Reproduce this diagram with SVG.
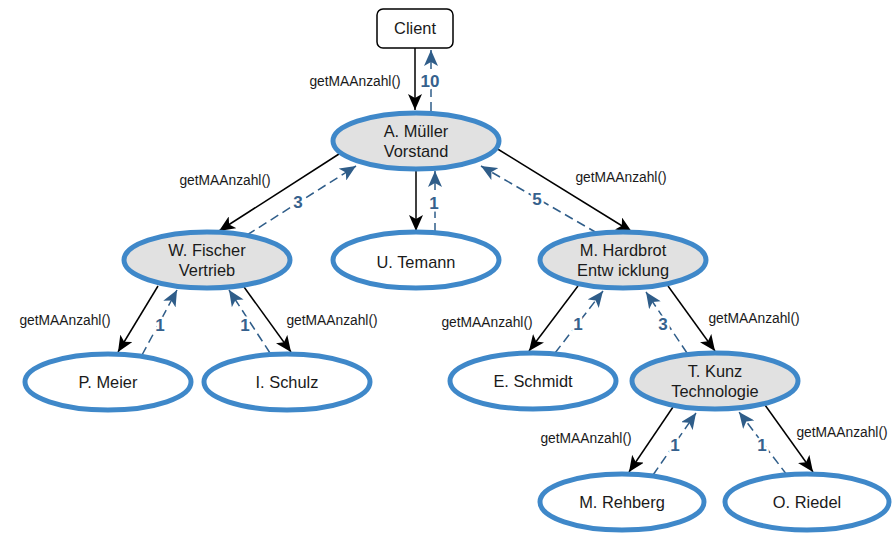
<svg xmlns="http://www.w3.org/2000/svg" width="893" height="534" viewBox="0 0 893 534">
<style>
.node{stroke:#3f88c9;stroke-width:5}
.mgr{fill:#e1e1e1}
.emp{fill:#ffffff}
.nt{font-family:"Liberation Sans",Arial,sans-serif;font-size:16.4px;fill:#1a1a1a;text-anchor:middle}
.call{stroke:#000;stroke-width:1.5;fill:none;marker-end:url(#ab)}
.ret{stroke:#2f5d89;stroke-width:1.5;fill:none;stroke-dasharray:9,5;marker-end:url(#ar)}
.cl{font-family:"Liberation Sans",Arial,sans-serif;font-size:13.8px;fill:#1a1a1a;text-anchor:middle}
.num{font-family:"Liberation Sans",Arial,sans-serif;font-size:17px;font-weight:bold;fill:#36618d;text-anchor:middle;stroke:#fff;stroke-width:5;paint-order:stroke;stroke-linejoin:round}
</style>
<defs>
<marker id="ab" markerUnits="userSpaceOnUse" markerWidth="17" markerHeight="14" refX="16" refY="7" orient="auto">
<path d="M0,0 L16,7 L0,14 L4,7 Z" fill="#000"/>
</marker>
<marker id="ar" markerUnits="userSpaceOnUse" markerWidth="17" markerHeight="14" refX="16" refY="7" orient="auto">
<path d="M0,0 L16,7 L0,14 L4,7 Z" fill="#2f5d89"/>
</marker>
</defs>
<rect width="893" height="534" fill="#fff"/>

<g id="connectors">
<line class="call" x1="415" y1="48" x2="415" y2="110"/>
<line class="ret" x1="431" y1="111" x2="431" y2="50"/>
<line class="call" x1="339" y1="154" x2="219" y2="231"/>
<line class="ret" x1="247" y1="235" x2="356" y2="166"/>
<line class="call" x1="416" y1="171" x2="416" y2="231"/>
<line class="ret" x1="435" y1="232" x2="435" y2="171"/>
<line class="call" x1="496" y1="148" x2="632" y2="232"/>
<line class="ret" x1="597" y1="233" x2="481" y2="166"/>
<line class="call" x1="158" y1="286" x2="118" y2="352"/>
<line class="ret" x1="142" y1="355" x2="177" y2="290"/>
<line class="call" x1="244" y1="287" x2="291" y2="352"/>
<line class="ret" x1="270" y1="353" x2="229" y2="290"/>
<line class="call" x1="578" y1="286" x2="529" y2="351"/>
<line class="ret" x1="555" y1="353" x2="603" y2="291"/>
<line class="call" x1="668" y1="286" x2="715" y2="351"/>
<line class="ret" x1="687" y1="353" x2="646" y2="292"/>
<line class="call" x1="673" y1="407" x2="629" y2="472"/>
<line class="ret" x1="653" y1="475" x2="696" y2="413"/>
<line class="call" x1="765" y1="405" x2="813" y2="472"/>
<line class="ret" x1="787" y1="475" x2="739" y2="412"/>
</g>

<g id="labels">
<text class="cl" x="355" y="86">getMAAnzahl()</text>
<text class="cl" x="225" y="185">getMAAnzahl()</text>
<text class="cl" x="621" y="182">getMAAnzahl()</text>
<text class="cl" x="65" y="325">getMAAnzahl()</text>
<text class="cl" x="332" y="325">getMAAnzahl()</text>
<text class="cl" x="487" y="327">getMAAnzahl()</text>
<text class="cl" x="754" y="323">getMAAnzahl()</text>
<text class="cl" x="586" y="443">getMAAnzahl()</text>
<text class="cl" x="842" y="437">getMAAnzahl()</text>
<text class="num" x="430" y="87">10</text>
<text class="num" x="298" y="208">3</text>
<text class="num" x="434" y="209">1</text>
<text class="num" x="537" y="205">5</text>
<text class="num" x="160" y="331">1</text>
<text class="num" x="245" y="331">1</text>
<text class="num" x="578" y="330">1</text>
<text class="num" x="663" y="330">3</text>
<text class="num" x="675" y="451">1</text>
<text class="num" x="762" y="451">1</text>
</g>

<g id="client">
<rect x="377" y="9" width="76" height="39" rx="6" fill="#fff" stroke="#000" stroke-width="1.5"/>
<text class="nt" x="415" y="34">Client</text>
</g>
<g id="mueller">
<ellipse class="node mgr" cx="416" cy="141" rx="83" ry="28"/>
<text class="nt" x="416" y="137">A. Müller</text>
<text class="nt" x="416" y="157">Vorstand</text>
</g>
<g id="fischer">
<ellipse class="node mgr" cx="207" cy="260" rx="83" ry="28"/>
<text class="nt" x="207" y="256">W. Fischer</text>
<text class="nt" x="207" y="276">Vertrieb</text>
</g>
<g id="temann">
<ellipse class="node emp" cx="416" cy="260" rx="83" ry="28"/>
<text class="nt" x="416" y="268">U. Temann</text>
</g>
<g id="hardbrot">
<ellipse class="node mgr" cx="623" cy="260" rx="83" ry="28"/>
<text class="nt" x="623" y="256">M. Hardbrot</text>
<text class="nt" x="623" y="276">Entw icklung</text>
</g>
<g id="meier">
<ellipse class="node emp" cx="108" cy="382" rx="83" ry="28"/>
<text class="nt" x="108" y="388">P. Meier</text>
</g>
<g id="schulz">
<ellipse class="node emp" cx="287" cy="382" rx="83" ry="28"/>
<text class="nt" x="287" y="388">I. Schulz</text>
</g>
<g id="schmidt">
<ellipse class="node emp" cx="533" cy="381" rx="83" ry="28"/>
<text class="nt" x="533" y="387">E. Schmidt</text>
</g>
<g id="kunz">
<ellipse class="node mgr" cx="715" cy="381" rx="83" ry="28"/>
<text class="nt" x="715" y="377">T. Kunz</text>
<text class="nt" x="715" y="397">Technologie</text>
</g>
<g id="rehberg">
<ellipse class="node emp" cx="622" cy="502" rx="82" ry="28"/>
<text class="nt" x="622" y="508">M. Rehberg</text>
</g>
<g id="riedel">
<ellipse class="node emp" cx="807" cy="502" rx="82" ry="28"/>
<text class="nt" x="807" y="508">O. Riedel</text>
</g>
</svg>
